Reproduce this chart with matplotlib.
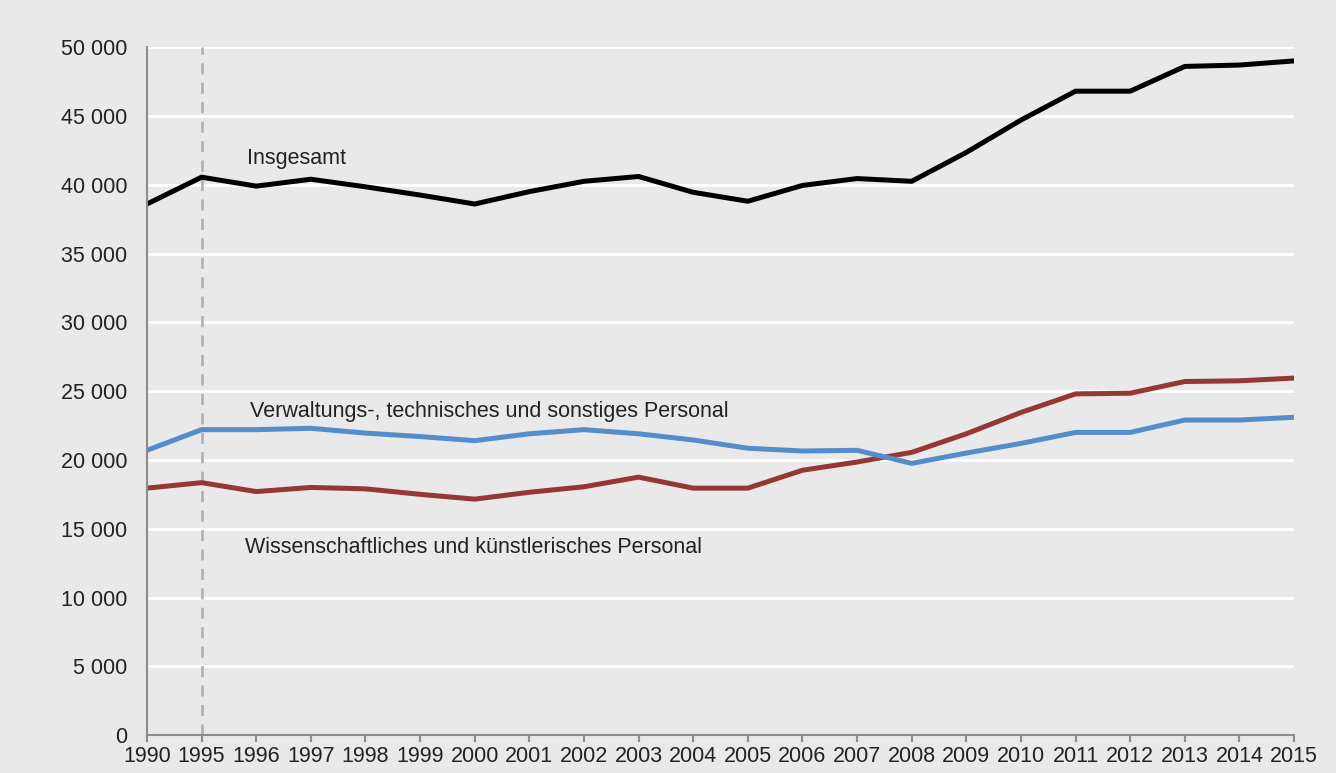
import matplotlib
matplotlib.use('Agg')
import matplotlib.pyplot as plt
from matplotlib.ticker import FuncFormatter

plt.rcParams['font.family'] = ['Liberation Sans', 'DejaVu Sans']

# Jahre (1991-1994 fehlen in der Grafik)
years = ['1990', '1995', '1996', '1997', '1998', '1999', '2000', '2001', '2002', '2003', '2004',
         '2005', '2006', '2007', '2008', '2009', '2010', '2011', '2012', '2013', '2014', '2015']

insgesamt = [38600, 40550, 39900, 40400, 39850, 39250, 38600, 39500, 40250, 40600, 39450,
             38800, 39950, 40450, 40250, 42350, 44700, 46800, 46800, 48600, 48700, 49000]
verwaltung = [20700, 22200, 22200, 22300, 21950, 21700, 21400, 21900, 22200, 21900, 21450,
              20850, 20650, 20700, 19750, 20500, 21200, 22000, 22000, 22900, 22900, 23100]
wissenschaft = [17950, 18350, 17700, 18000, 17900, 17500, 17150, 17650, 18050, 18750, 17950,
                17950, 19250, 19850, 20550, 21900, 23450, 24800, 24850, 25700, 25750, 25950]

bg = '#e8e9e8'
fs = 15.5
x = list(range(len(years)))

fig = plt.figure(figsize=(13.36, 7.73), dpi=100, facecolor=bg)
ax = fig.add_axes([0.110, 0.049, 0.8586, 0.890])
ax.set_facecolor(bg)

# Gitterlinien
for v in range(5000, 50001, 5000):
    ax.axhline(v, color='white', lw=2, zorder=1)

# gestrichelte Linie bei 1995
ax.axvline(1, color='#b3b3b3', lw=2, ls=(0, (4, 3)), zorder=2)

ax.plot(x, wissenschaft, color='#953735', lw=3.6, zorder=3, solid_capstyle='round')
ax.plot(x, verwaltung, color='#558ccc', lw=3.6, zorder=3, solid_capstyle='round')
ax.plot(x, insgesamt, color='black', lw=3.6, zorder=4, solid_capstyle='round')

ax.text(1.84, 41900, 'Insgesamt', fontsize=fs, color='#222222', va='center')
ax.text(1.88, 23500, 'Verwaltungs-, technisches und sonstiges Personal', fontsize=fs,
        color='#222222', va='center')
ax.text(1.80, 13600, 'Wissenschaftliches und künstlerisches Personal', fontsize=fs,
        color='#222222', va='center')

ax.set_xlim(0, len(years) - 1)
ax.set_ylim(0, 50000)
ax.set_xticks(x)
ax.set_xticklabels(years)
ax.set_yticks(range(0, 50001, 5000))
ax.yaxis.set_major_formatter(FuncFormatter(lambda v, p: '{:,}'.format(int(v)).replace(',', ' ')))

for s in ['top', 'right']:
    ax.spines[s].set_visible(False)
for s in ['left', 'bottom']:
    ax.spines[s].set_color('#8c8c8c')
    ax.spines[s].set_linewidth(1.5)
    ax.spines[s].set_zorder(5)

ax.tick_params(axis='y', length=0, pad=14, labelsize=fs, labelcolor='#222222')
ax.tick_params(axis='x', length=5, width=1.5, color='#8c8c8c', pad=3,
               labelsize=fs, labelcolor='#222222')

fig.savefig('out.png', dpi=100, facecolor=bg)
